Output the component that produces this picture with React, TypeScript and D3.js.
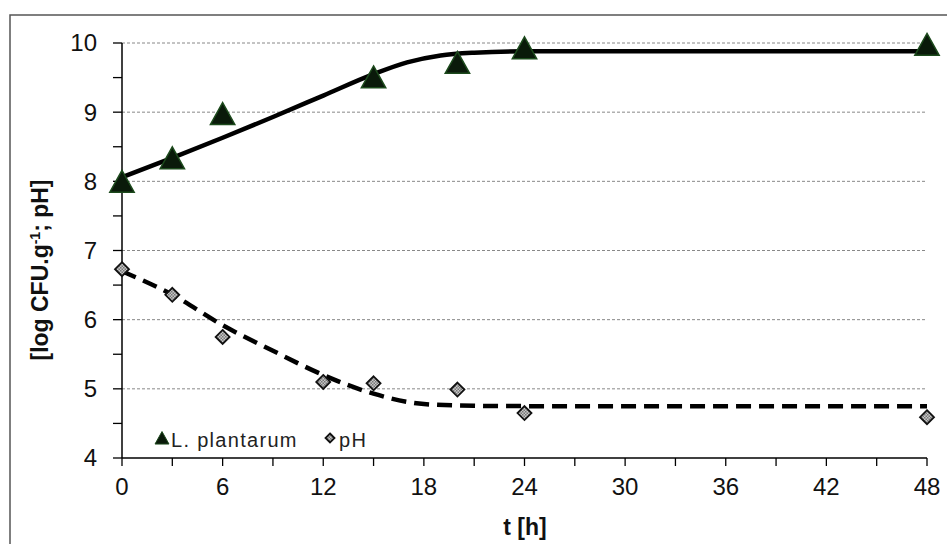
import React from "react";
import * as d3 from "d3";

const tPlant = [0, 3, 6, 15, 20, 24, 48];
const vPlant = [7.97, 8.31, 8.95, 9.48, 9.69, 9.9, 9.95];
const tPh = [0, 3, 6, 12, 15, 20, 24, 48];
const vPh = [6.73, 6.36, 5.75, 5.1, 5.08, 4.99, 4.65, 4.59];
const fitPlantT = [0, 3, 6, 9, 12, 15, 17, 19, 21, 24, 30, 48];
const fitPlantV = [8.06, 8.34, 8.63, 8.93, 9.24, 9.55, 9.72, 9.82, 9.86, 9.88, 9.88, 9.88];
const fitPhT = [0, 3, 6, 9, 12, 15, 18, 21, 24, 30, 48];
const fitPhV = [6.7, 6.36, 5.92, 5.55, 5.2, 4.93, 4.78, 4.755, 4.75, 4.75, 4.75];
const xTicks = [0, 6, 12, 18, 24, 30, 36, 42, 48];
const yTicks = [4, 5, 6, 7, 8, 9, 10];

const W = 947;
const H = 544;
const x = d3.scaleLinear().domain([0, 48]).range([122, 927]);
const y = d3.scaleLinear().domain([4, 10]).range([458, 43]);

const font = "'Liberation Sans', Arial, sans-serif";

export default function App() {
  const line = d3
    .line<[number, number]>()
    .x((d) => x(d[0]))
    .y((d) => y(d[1]))
    .curve(d3.curveMonotoneX);
  const plantFit = line(fitPlantT.map((t, i) => [t, fitPlantV[i]]))!;
  const phFit = line(fitPhT.map((t, i) => [t, fitPhV[i]]))!;
  const minorX = d3.range(0, 49, 3);
  const minorY = d3.range(4, 10.01, 0.5);
  const tri = (cx: number, cy: number, s: number) =>
    `M${cx},${cy - s * 0.62} L${cx + s * 0.58},${cy + s * 0.42} L${cx - s * 0.58},${cy + s * 0.42} Z`;
  const dia = (cx: number, cy: number, s: number) =>
    `M${cx},${cy - s} L${cx + s},${cy} L${cx},${cy + s} L${cx - s},${cy} Z`;

  return (
    <svg
      width={W}
      height={H}
      style={{ position: "absolute", left: 0, top: 0, background: "#fff" }}
      fontFamily={font}
    >
      <defs>
        <pattern id="hatch" width="3" height="3" patternUnits="userSpaceOnUse">
          <rect width="3" height="3" fill="#c8c8c8" />
          <rect width="1.5" height="1.5" fill="#777" />
          <rect x="1.5" y="1.5" width="1.5" height="1.5" fill="#777" />
        </pattern>
      </defs>
      <rect x={10} y={15} width={W + 20} height={H + 20} fill="#fff" stroke="#555" strokeWidth={1.5} />
      {yTicks
        .filter((v) => v > 4)
        .map((v) => (
          <line
            key={"g" + v}
            x1={x(0)}
            x2={x(48)}
            y1={y(v)}
            y2={y(v)}
            stroke="#888"
            strokeWidth={1}
            strokeDasharray="3,2"
          />
        ))}
      {/* axes */}
      <line x1={x(0)} x2={x(0)} y1={y(4)} y2={y(10)} stroke="#000" strokeWidth={1.5} />
      <line x1={x(0)} x2={x(48)} y1={y(4)} y2={y(4)} stroke="#000" strokeWidth={1.5} />
      {minorY.map((v) => (
        <line key={"yt" + v} x1={x(0) - 9} x2={x(0)} y1={y(v)} y2={y(v)} stroke="#000" strokeWidth={1.3} />
      ))}
      {minorX.map((v) => (
        <line key={"xt" + v} x1={x(v)} x2={x(v)} y1={y(4)} y2={y(4) + 8} stroke="#000" strokeWidth={1.3} />
      ))}
      {yTicks.map((v) => (
        <text key={"yl" + v} x={x(0) - 25} y={y(v)} dy="0.35em" textAnchor="end" fontSize={24} fill="#111">
          {v}
        </text>
      ))}
      {xTicks.map((v) => (
        <text key={"xl" + v} x={x(v)} y={y(4) + 37} textAnchor="middle" fontSize={24} fill="#111">
          {v}
        </text>
      ))}
      <text x={525} y={535} textAnchor="middle" fontSize={23} fontWeight="bold" fill="#111">
        t [h]
      </text>
      <text
        transform="translate(48,270) rotate(-90)"
        textAnchor="middle"
        fontSize={23}
        fontWeight="bold"
        fill="#111"
      >
        [log CFU.g<tspan dy={-8} fontSize={14}>-1</tspan>
        <tspan dy={8}>; pH]</tspan>
      </text>
      {/* fits */}
      <path d={plantFit} fill="none" stroke="#000" strokeWidth={4.5} />
      <path d={phFit} fill="none" stroke="#000" strokeWidth={4.5} strokeDasharray="15,8" />
      {/* markers */}
      {tPh.map((t, i) => (
        <path key={"p" + i} d={dia(x(t), y(vPh[i]), 7)} fill="url(#hatch)" stroke="#111" strokeWidth={1.8} />
      ))}
      {tPlant.map((t, i) => (
        <path key={"l" + i} d={tri(x(t), y(vPlant[i]), 21)} fill="#0a1a0a" stroke="#1c4a1c" strokeWidth={1.5} />
      ))}
      {/* legend */}
      <path d={tri(162, 439, 12)} fill="#0a1a0a" stroke="#1c4a1c" strokeWidth={1} />
      <text x={171} y={447} fontSize={20} letterSpacing={1.3} fill="#222">
        L. plantarum
      </text>
      <path d={dia(330, 438, 4.5)} fill="url(#hatch)" stroke="#111" strokeWidth={1.8} />
      <text x={339} y={447} fontSize={20} letterSpacing={1.3} fill="#222">
        pH
      </text>
    </svg>
  );
}
